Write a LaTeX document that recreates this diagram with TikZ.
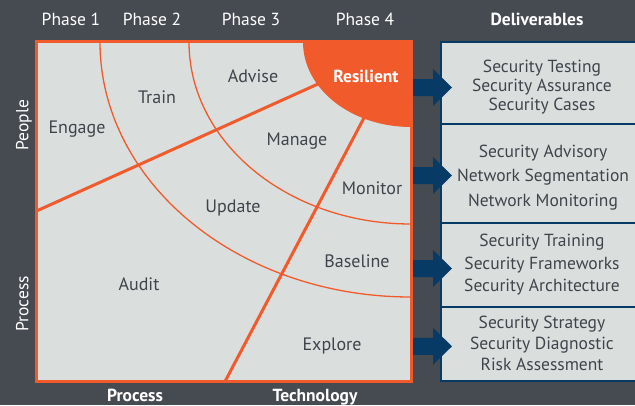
\documentclass[tikz,border=0pt]{standalone}
\usepackage{fontspec}
\setmainfont{PT Sans}
\definecolor{slate}{HTML}{464A51}
\definecolor{flame}{HTML}{F15A2B}
\definecolor{mist}{HTML}{DADFDE}
\definecolor{navy}{HTML}{073B66}
\definecolor{ink}{HTML}{3F444B}
\newcommand{\labelFont}{\fontsize{17.5}{21}\selectfont}
\newcommand{\zoneFont}{\fontsize{18}{21}\selectfont}
\tikzset{
  phasehead/.style={text=white, anchor=base, inner sep=0pt, font=\labelFont},
  axishead/.style={text=white, anchor=base, inner sep=0pt, font=\labelFont\bfseries},
  zone/.style={text=ink, anchor=base, inner sep=0pt, font=\zoneFont},
  deliv/.style={text=ink, anchor=base, inner sep=0pt, align=center},
  phasearc/.style={flame, line width=1.3pt},
  splitline/.style={flame, line width=3pt},
}

\begin{document}
\begin{tikzpicture}[x=1pt,y=-1pt]
\useasboundingbox (0,0) rectangle (635,405);
\fill[slate] (0,0) rectangle (635,405);

% the quadrant
\fill[mist] (36.5,41.5) rectangle (411,381.5);
\draw[phasearc] (100,42) arc[start angle=180, end angle=90, x radius=311, y radius=255];
\draw[phasearc] (189,42) arc[start angle=180, end angle=90, x radius=222, y radius=182];
\draw[splitline] (36.5,211) -- (411,42);
\draw[splitline] (225,381.5) -- (404,42);
\fill[flame] (411,42) -- (303,42) arc[start angle=180, end angle=90, x radius=108, y radius=85] -- cycle;
\draw[flame, line width=3pt] (36.5,41.5) rectangle (411,381.5);

% headings
\node[phasehead] (p1) at (71,25.7) {Phase 1};
\node[phasehead] (p2) at (152,25.7) {Phase 2};
\node[phasehead] (p3) at (251,25.7) {Phase 3};
\node[phasehead] (p4) at (365,25.7) {Phase 4};
\node[axishead] (dl) at (537,25.7) {Deliverables};
\node[phasehead, rotate=90] (people) at (28.3,125) {People};
\node[phasehead, rotate=90] (procl) at (28.3,304) {Process};
\node[axishead] (procb) at (135,401.5) {Process};
\node[axishead] (tech) at (315,401.5) {Technology};

% zones
\node[zone] (engage) at (77,133.3) {Engage};
\node[zone] (train) at (157,103.3) {Train};
\node[zone] (advise) at (253,82) {Advise};
\node[axishead] (resil) at (366,82) {Resilient};
\node[zone] (manage) at (297,145) {Manage};
\node[zone] (monitor) at (372,194.3) {Monitor};
\node[zone] (update) at (233,212.3) {Update};
\node[zone] (audit) at (139,290) {Audit};
\node[zone] (baseline) at (357,267.3) {Baseline};
\node[zone] (explore) at (332,350) {Explore};

% deliverables
\fill[mist] (441,42) rectangle (645,381);
\foreach \y in {124,223,307}
  \draw[navy, line width=2pt] (441,\y) -- (645,\y);
\draw[navy, line width=2.8pt] (645,42) -- (441,42) -- (441,381) -- (645,381);
\foreach \y in {87.5,175.5,268.5,346.3}
  \fill[navy] (413,\y-8.5) -- (433,\y-8.5) -- (433,\y-18.5) -- (452,\y)
    -- (433,\y+18.5) -- (433,\y+8.5) -- (413,\y+8.5) -- cycle;

\node[deliv, font=\fontsize{17.5}{19}\selectfont] (dtest) at (542,110.7)
  {Security Testing\\Security Assurance\\Security Cases};
\node[deliv, font=\fontsize{17.5}{24.5}\selectfont] (dadvise) at (543,206.3)
  {Security Advisory\\Network Segmentation\\Network Monitoring};
\node[deliv, font=\fontsize{17.5}{22.5}\selectfont] (dtrain) at (542,291.7)
  {Security Training\\Security Frameworks\\Security Architecture};
\node[deliv, font=\fontsize{17.5}{21}\selectfont] (dstrat) at (542,370.7)
  {Security Strategy\\Security Diagnostic\\Risk Assessment};
\end{tikzpicture}
\end{document}
